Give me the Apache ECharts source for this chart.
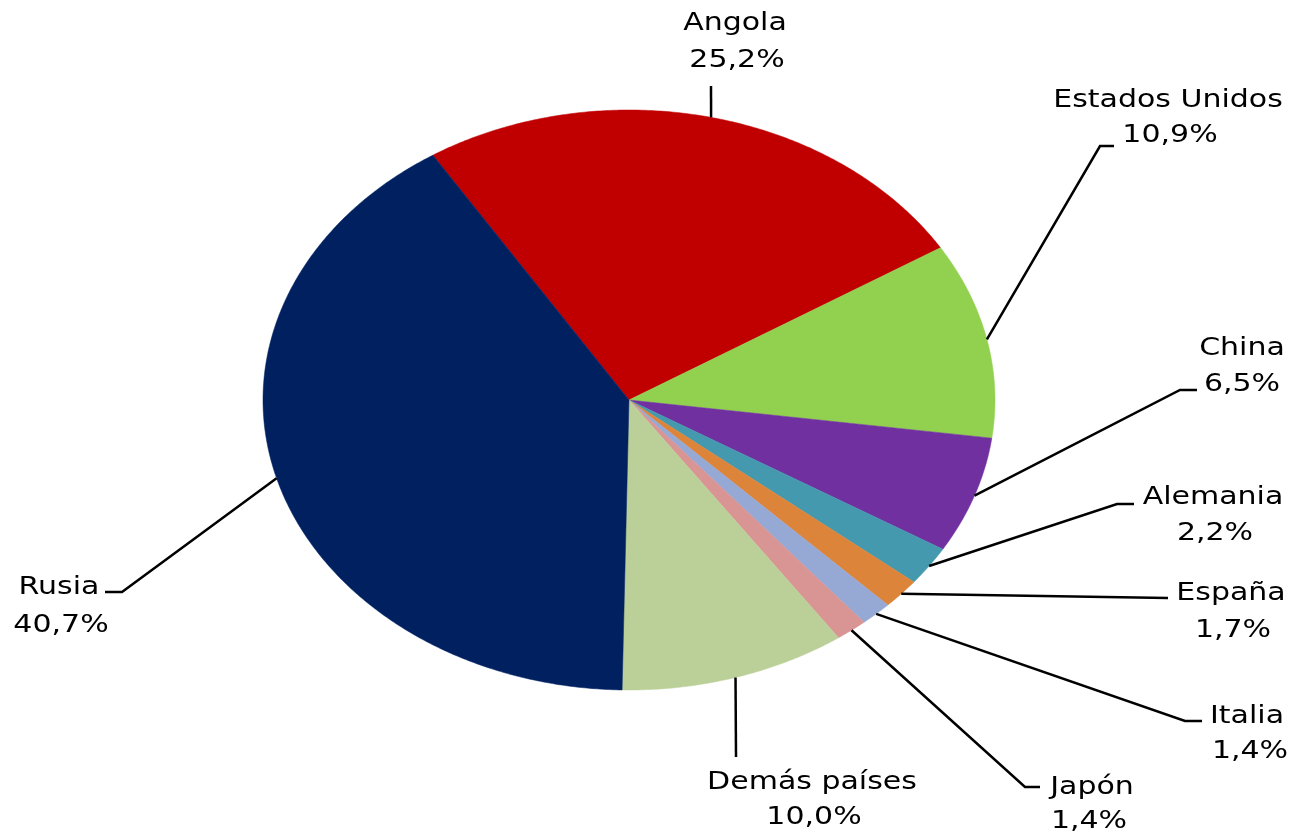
<!DOCTYPE html>
<html>
<head>
<meta charset="utf-8">
<script src="https://cdn.jsdelivr.net/npm/echarts@6/dist/echarts.min.js"></script>
<style>
  html, body { margin: 0; padding: 0; background: #fff; }
  #chart { width: 1291px; height: 835px; }
</style>
</head>
<body>
<div id="chart"></div>
<script>
// data
const countries = ['Angola', 'Estados Unidos', 'China', 'Alemania', 'España', 'Italia', 'Japón', 'Demás países', 'Rusia']
const shares = [25.2, 10.9, 6.5, 2.2, 1.7, 1.4, 1.4, 10.0, 40.7]

// styling / layout
const colors = ['#C00000', '#92D050', '#7030A0', '#4499AF', '#DD843B', '#95A9D4', '#D99594', '#BBD098', '#002060']
// leader line points after the slice edge
const leaderPts = [
  [[711, 86]],
  [[1100, 146], [1114, 146]],
  [[1180, 390], [1197, 390]],
  [[1117, 504], [1134, 504]],
  [[1168, 598]],
  [[1185, 721], [1202, 721]],
  [[1025, 787], [1040, 787]],
  [[736, 757]],
  [[122, 592], [105, 592]]
]
// label centres: [name x, name y, value x, value y]
const labelPos = [
  [735, 23, 737, 60],
  [1168, 100, 1170, 135],
  [1242, 348, 1242, 384],
  [1213, 497, 1215, 533],
  [1231, 593, 1233, 630],
  [1247, 716, 1250, 751],
  [1092, 787, 1089, 821],
  [812, 782, 814, 817],
  [59, 587, 61, 625]
]

const cx = 629, cy = 400, rx = 366, ry = 290
const startAngle = 122.4 // degrees, clockwise from here

let total = shares.reduce((a, b) => a + b, 0)
let angles = []
let acc = startAngle
shares.forEach((v) => {
  let a0 = acc
  acc -= (v / total) * 360
  angles.push([a0, acc])
})

function ellipsePt(deg) {
  let r = (deg * Math.PI) / 180
  return [cx + rx * Math.cos(r), cy - ry * Math.sin(r)]
}

function label(text, x, y) {
  return {
    type: 'text',
    x: x,
    y: y,
    scaleX: 1.2,
    style: {
      text: text,
      x: 0,
      y: 0,
      fontFamily: 'DejaVu Sans',
      fontSize: 25,
      fill: '#000',
      align: 'center',
      verticalAlign: 'middle'
    }
  }
}

function renderItem(params, api) {
  let i = params.dataIndex
  let [a0, a1] = angles[i]
  let pts = [[cx, cy]]
  let steps = Math.max(4, Math.ceil((a0 - a1) / 0.5))
  for (let k = 0; k <= steps; k++) {
    pts.push(ellipsePt(a0 + ((a1 - a0) * k) / steps))
  }
  let mid = ellipsePt((a0 + a1) / 2)
  let line = [mid].concat(leaderPts[i])
  let lp = labelPos[i]
  return {
    type: 'group',
    children: [
      {
        type: 'polygon',
        shape: { points: pts },
        style: { fill: colors[i], stroke: colors[i], lineWidth: 0.5 }
      },
      {
        type: 'polyline',
        shape: { points: line },
        style: { stroke: '#000', lineWidth: 2.5, fill: null }
      },
      label(countries[i], lp[0], lp[1]),
      label(api.value(0).toFixed(1).replace('.', ',') + '%', lp[2], lp[3])
    ]
  }
}

let myChart = echarts.init(document.getElementById('chart'))
let option = {
  animation: false,
  backgroundColor: '#fff',
  series: [
    {
      type: 'custom',
      coordinateSystem: 'none',
      renderItem: renderItem,
      data: shares.map((v, i) => ({ name: countries[i], value: [v] }))
    }
  ]
}
myChart.setOption(option)
window.addEventListener('resize', () => {
  myChart.resize()
})
</script>
</body>
</html>
